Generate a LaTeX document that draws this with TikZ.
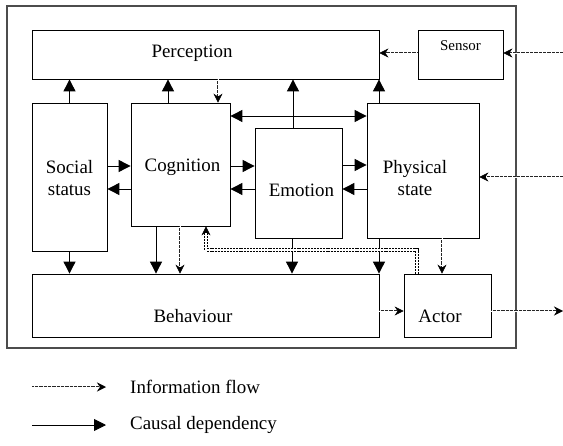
\documentclass[tikz,border=0pt]{standalone}
\usepackage{fontspec}
\setmainfont{Liberation Serif}
\usetikzlibrary{arrows.meta}
\begin{document}
\begin{tikzpicture}[x=1bp,y=-1bp,
  unit/.style={draw=black, line width=0.8bp, inner sep=0pt, fill=white},
  lbl/.style={font=\fontsize{19}{22}\selectfont, align=center, inner sep=0pt},
  causal/.style={line width=0.9bp, -{Triangle[length=12bp,width=12bp]}},
  infotip/.style={-{Stealth[length=9bp,width=9bp,inset=3bp,line width=0.5bp,color=black,fill=black]}},
  % a broken double line: a wide dashed stroke with a thin white core
  info/.style={draw=gray!30!black, line width=2.8bp, dash pattern=on 0.9bp off 0.4bp, infotip,
    postaction={draw=white, line width=0.6bp, solid, -, shorten >=7bp}},
  feedback/.style={draw=black, line width=3.4bp, dash pattern=on 2bp off 0.9bp, infotip,
    postaction={draw=white, line width=1.1bp, solid, -, shorten >=7bp}}]
\useasboundingbox (0,0) rectangle (563,446);

% frame of the agent
\draw[line width=1.2bp, gray!60!black] (7,6) rectangle (516,348);

% modules
\node[unit, minimum width=347bp, minimum height=49bp] (perception) at (205.5,54.5) {};
\node[unit, minimum width=85bp,  minimum height=49bp] (sensor)     at (460.5,54.5) {};
\node[unit, minimum width=75bp,  minimum height=148bp] (social)    at (69.5,177) {};
\node[unit, minimum width=99bp,  minimum height=123bp] (cognition) at (180.5,164.5) {};
\node[unit, minimum width=87bp,  minimum height=110bp] (emotion)   at (298.5,183) {};
\node[unit, minimum width=112bp, minimum height=135bp] (physical)  at (423,170.5) {};
\node[unit, minimum width=347bp, minimum height=63bp] (behaviour)  at (205.5,305.5) {};
\node[unit, minimum width=87bp,  minimum height=63bp] (actor)      at (447.5,305.5) {};

% module names
\node[lbl] (perception-t) at (192,53) {Perception};
\node[lbl, font=\fontsize{15}{18}\selectfont] (sensor-t) at (460.5,46) {Sensor};
\node[lbl] (social-t) at (69.5,178) {Social\\status};
\node[lbl] (cognition-t) at (182.5,167) {Cognition};
\node[lbl] (emotion-t) at (301.5,190) {Emotion};
\node[lbl] (physical-t) at (415,178) {Physical\\state};
\node[lbl] (behaviour-t) at (193,316) {Behaviour};
\node[lbl] (actor-t) at (440,316) {Actor};

% causal dependencies towards perception
\draw[causal] (social.north) -- (perception.south -| social.north);
\draw[causal] (cognition.north -| 168,0) -- (perception.south -| 168,0);
\draw[causal] (emotion.north -| 293,0) -- (perception.south -| 293,0);
\draw[causal] (physical.north -| 379,0) -- (perception.south -| 379,0);

% cognition <-> physical state
\draw[causal, {Triangle[length=12bp,width=12bp]}-{Triangle[length=12bp,width=12bp]}]
  (cognition.east |- 0,116) -- (physical.west |- 0,116);

% mutual dependencies between neighbouring modules
\draw[causal] (social.east |- 0,166) -- (cognition.west |- 0,166);
\draw[causal] (cognition.west |- 0,189) -- (social.east |- 0,189);
\draw[causal] (cognition.east |- 0,166) -- (emotion.west |- 0,166);
\draw[causal] (emotion.west |- 0,189) -- (cognition.east |- 0,189);
\draw[causal] (emotion.east |- 0,165) -- (physical.west |- 0,165);
\draw[causal] (physical.west |- 0,189) -- (emotion.east |- 0,189);

% causal dependencies towards behaviour
\draw[causal] (social.south) -- (behaviour.north -| social.south);
\draw[causal] (cognition.south -| 156,0) -- (behaviour.north -| 156,0);
\draw[causal] (emotion.south -| 292,0) -- (behaviour.north -| 292,0);
\draw[causal] (physical.south -| 379,0) -- (behaviour.north -| 379,0);

% information flow
\coordinate (in-sensor) at (563,53);
\coordinate (in-physical) at (563,177);
\coordinate (out-actor) at (563,311);
\draw[info] (in-sensor) -- (sensor.east |- in-sensor);
\draw[info] (sensor.west |- in-sensor) -- (perception.east |- in-sensor);
\draw[info] (perception.south -| 218,0) -- (cognition.north -| 218,0);
\draw[info] (cognition.south -| 180,0) -- (behaviour.north -| 180,0);
\draw[info] (in-physical) -- (physical.east |- in-physical);
\draw[info] (physical.south -| 442,0) -- (actor.north -| 442,0);
\draw[info] (behaviour.east |- 0,311) -- (actor.west |- 0,311);
\draw[info] (actor.east |- out-actor) -- (out-actor);
\draw[feedback] (actor.north -| 417,0) -- (417,250) -- (206,250) -- (cognition.south -| 206,0);

% legend
\coordinate (li-a) at (32,387);
\coordinate (li-b) at (106,387);
\coordinate (lc-a) at (32,425);
\coordinate (lc-b) at (106,425);
\draw[info] (li-a) -- (li-b);
\draw[causal] (lc-a) -- (lc-b);
\node[lbl, anchor=west] (info-t) at (130,387) {Information flow};
\node[lbl, anchor=west] (causal-t) at (130,425) {Causal dependency};
\end{tikzpicture}
\end{document}
